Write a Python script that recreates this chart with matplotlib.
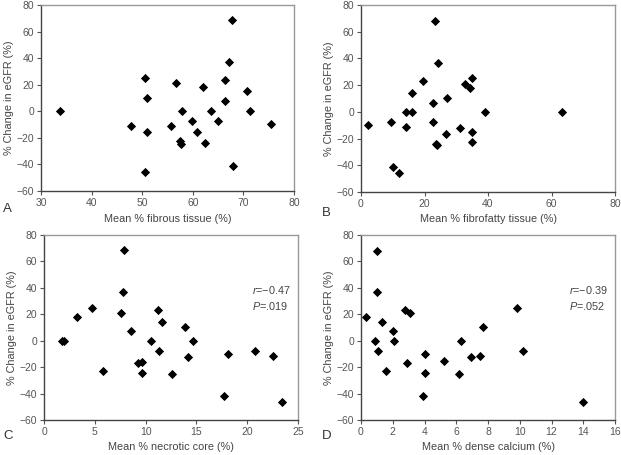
import matplotlib
matplotlib.use("Agg")
import matplotlib.pyplot as plt

# percent change in eGFR against each plaque component
fibrous_x = [33.7, 47.7, 50.5, 51.0, 51.0, 50.5, 55.7, 56.6, 57.9, 57.5, 57.6, 59.9, 60.8,
             62.1, 62.4, 63.6, 64.9, 66.4, 66.4, 67.1, 67.8, 68.0, 70.7, 71.4, 75.5]
fibrous_y = [0, -11.1, 25.1, 10.3, -15.3, -45.4, -11.0, 21.5, 0, -22.4, -24.9, -7.6, -15.8,
             18.5, -24.1, 0, -7.6, 7.5, 23.8, 36.8, 69.0, -41.2, 15.3, 0, -9.3]

fibrofatty_x = [2.2, 9.3, 10.1, 11.9, 14.2, 14.2, 16.2, 16.2, 19.6, 22.7, 22.7, 23.3, 23.7,
                24.0, 24.2, 27.1, 26.9, 31.3, 32.7, 34.4, 34.9, 34.9, 35.1, 39.2, 63.2]
fibrofatty_y = [-9.5, -7.5, -41.3, -45.5, 0, -11.3, 0, 14.3, 23.0, 7.0, -7.5, 68.0, -24.0,
                -25.0, 36.8, 10.3, -16.5, -11.8, 20.8, 17.8, 25.0, -15.3, -22.3, 0, 0]

necrotic_x = [1.8, 2.0, 3.2, 4.7, 5.8, 7.6, 7.8, 7.9, 8.6, 9.3, 9.6, 9.6, 10.5, 11.2, 11.3,
              11.6, 12.6, 13.9, 14.2, 14.7, 17.7, 18.1, 20.8, 22.5, 23.4]
necrotic_y = [0, 0, 17.7, 25.0, -22.9, 20.7, 36.6, 68.4, 7.1, -16.9, -15.9, -24.7, 0, 23.2,
              -7.8, 14.2, -25.2, 10.1, -12.1, 0, -41.8, -9.8, -7.8, -11.3, -46.1]

calcium_x = [0.3, 0.9, 1.0, 1.0, 1.1, 1.3, 1.6, 2.0, 2.1, 2.8, 2.9, 3.1, 3.9, 4.0, 4.0,
             5.2, 6.2, 6.3, 6.9, 7.5, 7.7, 9.8, 10.2, 14.0]
calcium_y = [17.6, 0, 68.1, 36.7, -7.8, 14.1, -22.6, 7.0, 0, 23.1, -16.6, 20.6, -41.7, -9.8,
             -24.6, -15.6, -25.1, 0, -12.1, -11.6, 10.1, 24.9, -7.8, -46.0]

panels = [
    ("A", fibrous_x, fibrous_y, "Mean % fibrous tissue (%)", (30, 80), [30, 40, 50, 60, 70, 80], None),
    ("B", fibrofatty_x, fibrofatty_y, "Mean % fibrofatty tissue (%)", (0, 80), [0, 20, 40, 60, 80], None),
    ("C", necrotic_x, necrotic_y, "Mean % necrotic core (%)", (0, 25), [0, 5, 10, 15, 20, 25], ("\u22120.47", ".019")),
    ("D", calcium_x, calcium_y, "Mean % dense calcium (%)", (0, 16), list(range(0, 17, 2)), ("\u22120.39", ".052")),
]

W, H = 621, 455
# axes boxes in pixels: left, right, top, bottom
boxes = [(41, 294, 5, 191), (361, 615, 5, 192), (44, 298, 235, 420), (361, 615, 235, 420)]
letter_pos = [(3, 209), (322, 213), (3, 436), (322, 436)]
y_ticks = [-60, -40, -20, 0, 20, 40, 60, 80]

plt.rcParams['font.family'] = ['Liberation Sans', 'DejaVu Sans']
plt.rcParams['mathtext.fontset'] = 'custom'
plt.rcParams['mathtext.it'] = 'Liberation Sans:italic'
plt.rcParams['axes.unicode_minus'] = True

fig = plt.figure(figsize=(W / 100, H / 100), dpi=100)

for (letter, xs, ys, xlabel, xlim, xticks, stats), box, lp in zip(panels, boxes, letter_pos):
    l, r, t, b = box
    ax = fig.add_axes([l / W, 1 - b / H, (r - l) / W, (b - t) / H])
    ax.scatter(xs, ys, marker="D", s=22, color="black", linewidths=0, zorder=3)
    ax.set_xlim(*xlim)
    ax.set_ylim(-60, 80)
    ax.set_xticks(xticks)
    ax.set_yticks(y_ticks)
    ax.tick_params(labelsize=7.5, colors="#555555", length=3, width=0.8, pad=2)
    for side in ["left", "bottom"]:
        ax.spines[side].set_color("#444444")
        ax.spines[side].set_linewidth(1.0)
    for side in ["top", "right"]:
        ax.spines[side].set_color("#999999")
        ax.spines[side].set_linewidth(1.0)
    ax.set_xlabel(xlabel, fontsize=7.8, color="#444444", labelpad=4)
    ax.set_ylabel("% Change in eGFR (%)", fontsize=7.8, color="#444444", labelpad=2)
    if stats:
        ax.text(0.82, 0.70, "$r$=" + stats[0], transform=ax.transAxes, fontsize=7.8,
                color="#444444", va="center")
        ax.text(0.82, 0.615, "$P$=" + stats[1], transform=ax.transAxes, fontsize=7.8,
                color="#444444", va="center")
    fig.text(lp[0] / W, 1 - lp[1] / H, letter, fontsize=9.5, color="#333333", va="center")

fig.savefig("out.png", dpi=100)
